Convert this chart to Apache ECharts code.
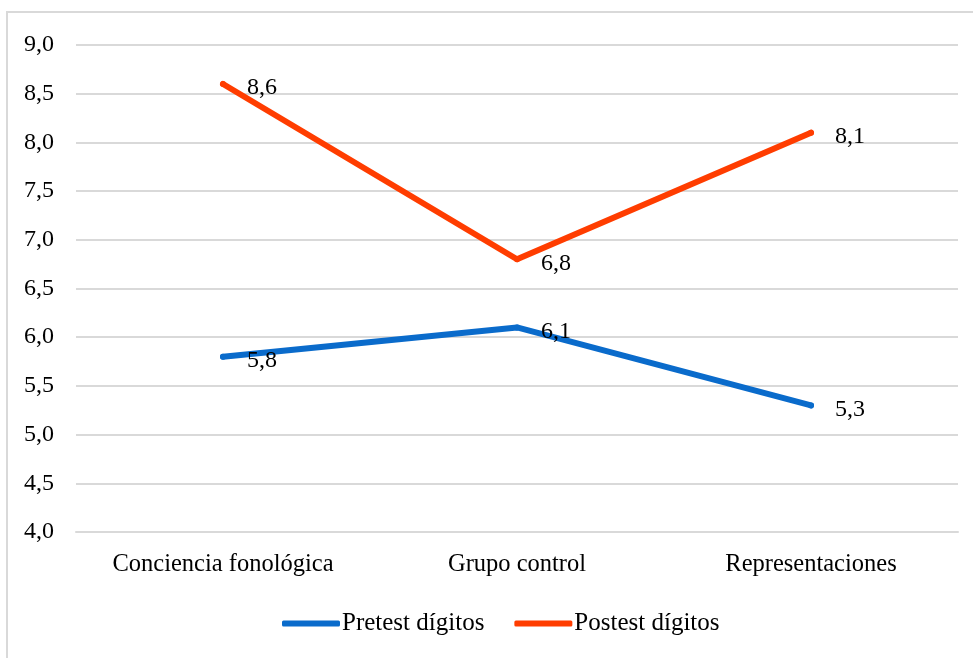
<!DOCTYPE html>
<html>
<head>
<meta charset="utf-8">
<script src="https://cdn.jsdelivr.net/npm/echarts@6/dist/echarts.min.js"></script>
<style>
  html, body { margin: 0; padding: 0; background: #fff; }
  #chart { width: 973px; height: 658px; }
</style>
</head>
<body>
<div id="chart"></div>
<script>
// Groups on the x axis
const categories = ['Conciencia fonológica', 'Grupo control', 'Representaciones'];
// Mean digit scores
const pretestDigitos = [5.8, 6.1, 5.3];
const postestDigitos = [8.6, 6.8, 8.1];
// Value axis range
const yMin = 4.0;
const yMax = 9.0;
const yStep = 0.5;

const serif = '"Liberation Serif", "Times New Roman", serif';
const comma = v => v.toFixed(1).replace('.', ',');

const chart = echarts.init(document.getElementById('chart'), null, { renderer: 'canvas' });

const labelStyle = {
  show: true,
  position: 'right',
  distance: 21,
  color: '#000',
  fontFamily: serif,
  fontSize: 24,
  formatter: p => comma(p.value)
};

// Small dots at the data points, sized to the line so they blend in
function lineSeries(name, data, color) {
  return {
    name: name,
    type: 'line',
    data: data,
    color: color,
    symbol: 'circle',
    symbolSize: 6,
    showSymbol: true,
    itemStyle: { color: color, borderWidth: 0 },
    lineStyle: { width: 6, cap: 'round', join: 'round' },
    label: labelStyle,
    labelLayout: { hideOverlap: false, dy: 4 },
    z: 3
  };
}

chart.setOption({
  animation: false,
  backgroundColor: '#fff',
  graphic: [{
    type: 'rect',
    shape: { x: 7, y: 12, width: 990, height: 680 },
    style: { fill: 'none', stroke: '#d9d9d9', lineWidth: 2 },
    silent: true
  }],
  grid: { left: 76, right: 15, top: 45, bottom: 126 },
  legend: {
    bottom: 17,
    left: 277,
    itemWidth: 58,
    itemHeight: 6,
    itemGap: 30,
    icon: 'roundRect',
    textStyle: { fontFamily: serif, fontSize: 25, color: '#000', padding: [0, 0, 0, -3] },
    data: ['Pretest dígitos', 'Postest dígitos']
  },
  xAxis: {
    type: 'category',
    data: categories,
    boundaryGap: true,
    axisLine: { show: true, lineStyle: { color: '#d9d9d9', width: 2 } },
    axisTick: { show: false },
    axisLabel: { color: '#000', fontFamily: serif, fontSize: 24.5, margin: 20 }
  },
  yAxis: {
    type: 'value',
    min: yMin,
    max: yMax,
    interval: yStep,
    axisLine: { show: false },
    axisTick: { show: false },
    splitLine: { lineStyle: { color: '#d9d9d9', width: 2 } },
    axisLabel: { color: '#000', fontFamily: serif, fontSize: 24, margin: 22, formatter: v => comma(v) }
  },
  series: [
    lineSeries('Pretest dígitos', pretestDigitos, '#0A6BCB'),
    lineSeries('Postest dígitos', postestDigitos, '#FF3D00')
  ]
});
</script>
</body>
</html>
